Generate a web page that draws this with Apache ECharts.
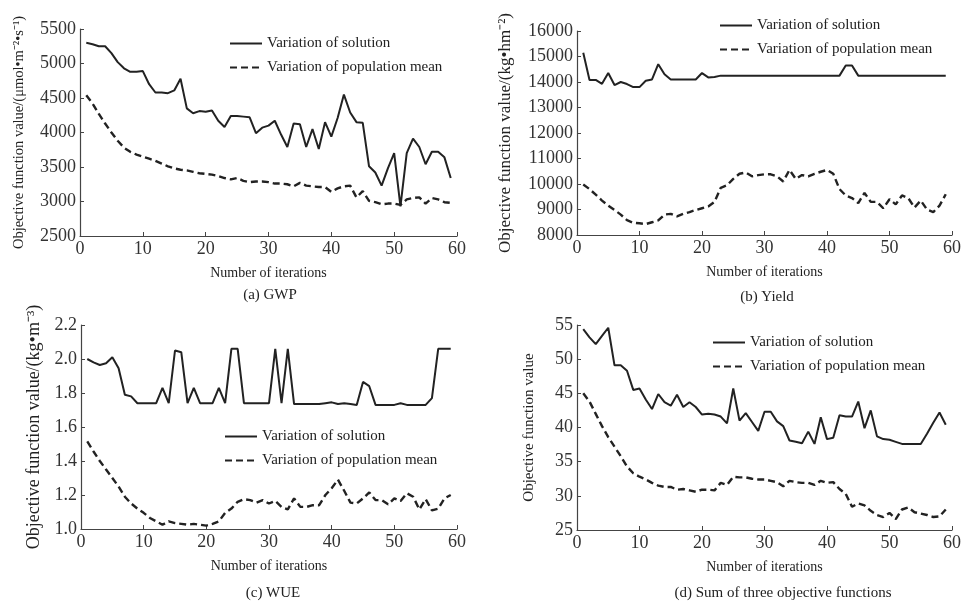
<!DOCTYPE html>
<html>
<head>
<meta charset="utf-8">
<script src="https://cdn.jsdelivr.net/npm/echarts@6/dist/echarts.min.js"></script>
<style>
  html, body { margin: 0; padding: 0; background: #fff; }
  #chart { width: 964px; height: 603px; }
</style>
</head>
<body>
<div id="chart"></div>
<script>
const iterations = [1, 2, 3, 4, 5, 6, 7, 8, 9, 10, 11, 12, 13, 14, 15, 16, 17, 18, 19, 20,
  21, 22, 23, 24, 25, 26, 27, 28, 29, 30, 31, 32, 33, 34, 35, 36, 37, 38, 39, 40,
  41, 42, 43, 44, 45, 46, 47, 48, 49, 50, 51, 52, 53, 54, 55, 56, 57, 58, 59];

// (a) GWP
const gwpSolution = [5300, 5280, 5250, 5250, 5150, 5020, 4930, 4880, 4880, 4890,
  4700, 4580, 4580, 4570, 4610, 4780, 4350, 4280, 4310, 4300,
  4320, 4170, 4080, 4240, 4240, 4230, 4220, 3990, 4070, 4100,
  4170, 3970, 3790, 4130, 4120, 3790, 4050, 3760, 4150, 3940,
  4210, 4550, 4290, 4150, 4140, 3510, 3420, 3230, 3480, 3700,
  2930, 3700, 3910, 3790, 3540, 3720, 3720, 3640, 3340];
const gwpMean = [4540, 4420, 4270, 4130, 4000, 3880, 3780, 3720, 3680, 3650,
  3620, 3590, 3550, 3510, 3480, 3460, 3450, 3430, 3410, 3400,
  3390, 3370, 3340, 3320, 3340, 3300, 3280, 3290, 3290, 3280,
  3260, 3260, 3250, 3220, 3270, 3230, 3220, 3210, 3210, 3140,
  3190, 3220, 3230, 3060, 3150, 3010, 2990, 2960, 2970, 2970,
  2950, 3030, 3050, 3060, 2970, 3050, 3030, 2990, 2980];

// (b) Yield
const yieldSolution = [15150, 14080, 14080, 13930, 14350, 13880, 14000, 13920, 13800, 13800,
  14050, 14100, 14700, 14300, 14100, 14100, 14100, 14100, 14100, 14350,
  14180, 14200, 14250, 14250, 14250, 14250, 14250, 14250, 14250, 14250,
  14250, 14250, 14250, 14250, 14250, 14250, 14250, 14250, 14250, 14250,
  14250, 14250, 14650, 14650, 14250, 14250, 14250, 14250, 14250, 14250,
  14250, 14250, 14250, 14250, 14250, 14250, 14250, 14250, 14250];
const yieldMean = [9980, 9800, 9580, 9350, 9150, 8980, 8800, 8580, 8480, 8460,
  8430, 8500, 8570, 8800, 8830, 8730, 8830, 8900, 8980, 9050,
  9120, 9300, 9850, 9950, 10200, 10400, 10450, 10300, 10350, 10380,
  10380, 10300, 10100, 10550, 10200, 10350, 10300, 10400, 10480, 10550,
  10400, 9800, 9550, 9450, 9250, 9650, 9300, 9300, 9050, 9400,
  9200, 9550, 9450, 9080, 9350, 9000, 8900, 9150, 9600];

// (c) WUE
const wueSolution = [2.00, 1.98, 1.965, 1.975, 2.01, 1.945, 1.79, 1.78, 1.74, 1.74,
  1.74, 1.74, 1.83, 1.74, 2.05, 2.04, 1.74, 1.83, 1.74, 1.74,
  1.74, 1.83, 1.74, 2.06, 2.06, 1.74, 1.74, 1.74, 1.74, 1.74,
  2.06, 1.74, 2.06, 1.735, 1.735, 1.735, 1.735, 1.735, 1.74, 1.745,
  1.735, 1.74, 1.735, 1.73, 1.865, 1.84, 1.73, 1.73, 1.73, 1.73,
  1.74, 1.73, 1.73, 1.73, 1.73, 1.77, 2.06, 2.06, 2.06];
const wueMean = [1.515, 1.456, 1.40, 1.35, 1.30, 1.25, 1.19, 1.15, 1.12, 1.095,
  1.065, 1.045, 1.025, 1.045, 1.035, 1.03, 1.025, 1.03, 1.025, 1.02,
  1.03, 1.045, 1.095, 1.12, 1.16, 1.175, 1.17, 1.155, 1.17, 1.15,
  1.165, 1.13, 1.115, 1.18, 1.13, 1.13, 1.14, 1.14, 1.20, 1.24,
  1.29, 1.225, 1.155, 1.15, 1.18, 1.215, 1.17, 1.17, 1.145, 1.18,
  1.165, 1.21, 1.19, 1.115, 1.175, 1.11, 1.12, 1.18, 1.20];

// (d) Sum of three objective functions
const sumSolution = [54.4, 53.2, 52.2, 53.4, 54.6, 49.1, 49.1, 48.3, 45.5, 45.7,
  44.1, 42.7, 44.9, 43.7, 43.2, 44.8, 43.0, 43.7, 43.0, 41.9,
  42.0, 41.9, 41.6, 40.6, 45.7, 41.0, 42.1, 40.8, 39.5, 42.3,
  42.3, 40.9, 40.2, 38.1, 37.9, 37.7, 39.4, 37.6, 41.5, 38.3,
  38.5, 41.8, 41.6, 41.6, 43.8, 39.9, 42.5, 38.7, 38.3, 38.2,
  37.9, 37.6, 37.6, 37.6, 37.6, 39.1, 40.7, 42.2, 40.4];
const sumMean = [45.0, 43.8, 42.0, 40.2, 38.6, 37.2, 35.8, 34.3, 33.3, 32.8,
  32.4, 31.9, 31.5, 31.3, 31.3, 30.9, 31.0, 30.8, 30.6, 30.9,
  30.9, 30.8, 31.9, 31.6, 32.8, 32.7, 32.7, 32.5, 32.4, 32.4,
  32.2, 32.0, 31.4, 32.2, 32.0, 31.9, 31.9, 31.6, 32.2, 31.9,
  32.0, 31.0, 30.3, 28.4, 28.9, 28.6, 27.8, 27.2, 26.9, 27.5,
  26.6, 28.0, 28.3, 27.6, 27.4, 27.2, 26.9, 27.0, 28.0];

const xTicks = [0, 10, 20, 30, 40, 50, 60];
const yTicksGwp = [2500, 5500, 500];
const yTicksYield = [8000, 16000, 1000];
const yTicksWue = [1.0, 2.2, 0.2];
const yTicksSum = [25, 55, 5];

const seriesNames = ["Variation of solution", "Variation of population mean"];
const yNames = [
  "Objective function value/(μmol•m⁻²•s⁻¹)",
  "Objective function value/(kg•hm⁻²)",
  "Objective function value/(kg•m⁻³)",
  "Objective function value"
];
const captions = ["(a) GWP", "(b) Yield", "(c) WUE", "(d) Sum of three objective functions"];

const FONT = "Liberation Serif";
const INK = "#222";

const chart = echarts.init(document.getElementById("chart"));

const grids = [
  { left: 80, top: 29, width: 377, height: 207 },
  { left: 577, top: 31, width: 377, height: 204 },
  { left: 81, top: 325, width: 376, height: 204 },
  { left: 577, top: 325, width: 376, height: 205 }
];
const yTicks = [yTicksGwp, yTicksYield, yTicksWue, yTicksSum];
const yNameGaps = [53, 63, 38, 40];
const yNameSizes = [14.5, 17, 18, 15];

function pairs(values) {
  return iterations.map(function (it, i) { return [it, values[i]]; });
}

const xAxis = grids.map(function (g, i) {
  return {
    type: "value", gridIndex: i,
    min: xTicks[0], max: xTicks[xTicks.length - 1], interval: 10,
    name: "Number of iterations", nameLocation: "middle", nameGap: 30,
    nameTextStyle: { fontFamily: FONT, fontSize: 14, color: INK },
    axisLine: { lineStyle: { color: "#444", width: 1.2 } },
    axisTick: { inside: true, length: 4, lineStyle: { color: "#444" } },
    axisLabel: { fontFamily: FONT, fontSize: 18, color: "#333", margin: 4 },
    splitLine: { show: false }
  };
});

const yAxis = grids.map(function (g, i) {
  const t = yTicks[i];
  return {
    type: "value", gridIndex: i,
    min: t[0], max: t[1], interval: t[2],
    name: yNames[i], nameLocation: "middle", nameGap: yNameGaps[i],
    nameTextStyle: { fontFamily: FONT, fontSize: yNameSizes[i], color: INK },
    axisLine: { show: true, lineStyle: { color: "#444", width: 1.2 } },
    axisTick: { show: true, inside: true, length: 4, lineStyle: { color: "#444" } },
    axisLabel: {
      fontFamily: FONT, fontSize: 18, color: "#333", margin: 4,
      formatter: function (v) { return i === 2 ? v.toFixed(1) : String(v); }
    },
    splitLine: { show: false }
  };
});

const panels = [
  [gwpSolution, gwpMean],
  [yieldSolution, yieldMean],
  [wueSolution, wueMean],
  [sumSolution, sumMean]
];

const series = [];
panels.forEach(function (p, i) {
  series.push({
    name: seriesNames[0], type: "line", xAxisIndex: i, yAxisIndex: i,
    symbol: "none", data: pairs(p[0]),
    lineStyle: { color: INK, width: 2 }, itemStyle: { color: INK }
  });
  series.push({
    name: seriesNames[1], type: "line", xAxisIndex: i, yAxisIndex: i,
    symbol: "none", data: pairs(p[1]),
    lineStyle: { color: INK, width: 2.4, type: [7, 4] }, itemStyle: { color: INK }
  });
});

const legendSpots = [
  { left: 229, top: 36 },
  { left: 719, top: 18 },
  { left: 224, top: 429 },
  { left: 712, top: 335 }
];
const legend = legendSpots.map(function (s) {
  return {
    left: s.left, top: s.top, orient: "vertical", padding: 0,
    itemWidth: 32, itemHeight: 14, itemGap: 9,
    data: seriesNames, selectedMode: false,
    itemStyle: { opacity: 0 },
    textStyle: { fontFamily: FONT, fontSize: 15, color: INK }
  };
});

const captionSpots = [[270, 295], [767, 297], [273, 593], [783, 593]];
const graphic = captions.map(function (c, i) {
  return {
    type: "text", x: captionSpots[i][0], y: captionSpots[i][1],
    style: {
      text: c, font: "15px " + FONT, fill: INK,
      textAlign: "center", textVerticalAlign: "middle"
    }
  };
});

chart.setOption({
  backgroundColor: "#fff",
  animation: false,
  grid: grids,
  xAxis: xAxis,
  yAxis: yAxis,
  legend: legend,
  graphic: graphic,
  series: series
});
</script>
</body>
</html>
